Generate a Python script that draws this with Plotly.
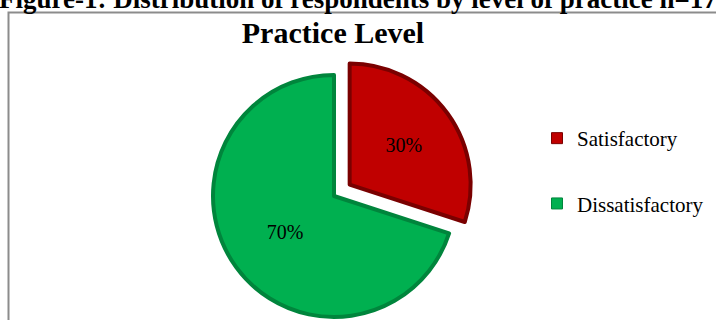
import plotly.graph_objects as go

# ---- data ----
categories = ["Satisfactory", "Dissatisfactory"]
percent_values = [30, 70]
slice_colors = ["#C00000", "#00B050"]
edge_colors = ["#7A0000", "#00853C"]
pull_values = [0.16, 0.0]

chart_title = "Practice Level"
figure_caption = "Figure-1: Distribution of respondents by level of practice n=17"

# ---- layout constants (pixels) ----
W, H = 716, 340
cx, cy, r = 334, 196, 121
box = 2 * r * (1 + max(pull_values))
xdom = [(cx - box / 2) / W, (cx + box / 2) / W]
ydom = [max(0.0, (H - (cy + box / 2)) / H), (H - (cy - box / 2)) / H]

FONT = "Liberation Serif, Times New Roman, serif"

fig = go.Figure()

fig.add_trace(go.Pie(
    labels=categories,
    values=percent_values,
    sort=False,
    direction="clockwise",
    rotation=0,
    pull=pull_values,
    marker=dict(colors=slice_colors, line=dict(color=edge_colors, width=4)),
    textinfo="percent",
    texttemplate="%{percent:.0%}",
    textposition="inside",
    insidetextorientation="horizontal",
    textfont=dict(family=FONT, size=20, color="black"),
    domain=dict(x=xdom, y=ydom),
    showlegend=False,
    hoverinfo="label+percent",
))

# legend entries
for name, col, ec in zip(categories, slice_colors, edge_colors):
    fig.add_trace(go.Scatter(
        x=[None], y=[None], mode="markers", name=name,
        legendgroup=name,
        marker=dict(symbol="square", size=11, color=col, line=dict(color=ec, width=1)),
    ))

fig.update_layout(
    width=W, height=H,
    margin=dict(l=0, r=0, t=0, b=0, autoexpand=False),
    paper_bgcolor="white", plot_bgcolor="white",
    xaxis=dict(visible=False), yaxis=dict(visible=False),
    title=dict(text="<b>" + chart_title + "</b>", x=333 / W, xanchor="center",
               y=1 - 32 / H, yanchor="middle", yref="container",
               font=dict(family=FONT, size=30, color="black")),
    legend=dict(x=537 / W, xanchor="left", y=1 - 118 / H, yanchor="top",
                font=dict(family=FONT, size=21, color="black"),
                tracegroupgap=35, traceorder="grouped",
                bgcolor="rgba(0,0,0,0)", itemwidth=30),
    shapes=[dict(type="rect", xref="paper", yref="paper",
                 x0=8.5 / W, x1=1.2, y0=-0.3, y1=1 - 12.5 / H,
                 line=dict(color="#8C8C8C", width=2), fillcolor="rgba(0,0,0,0)",
                 layer="below")],
    annotations=[dict(text="<b>" + figure_caption + "</b>", xref="paper", yref="paper",
                      x=-3 / W, xanchor="left", y=1 - 16 / H, yanchor="bottom",
                      showarrow=False, font=dict(family=FONT, size=27, color="black"))],
)

fig.write_html(
    "out.html",
    config={"displayModeBar": False},
    post_script="document.documentElement.style.overflow='hidden';"
                "document.body.style.overflow='hidden';document.body.style.margin='0';",
)
